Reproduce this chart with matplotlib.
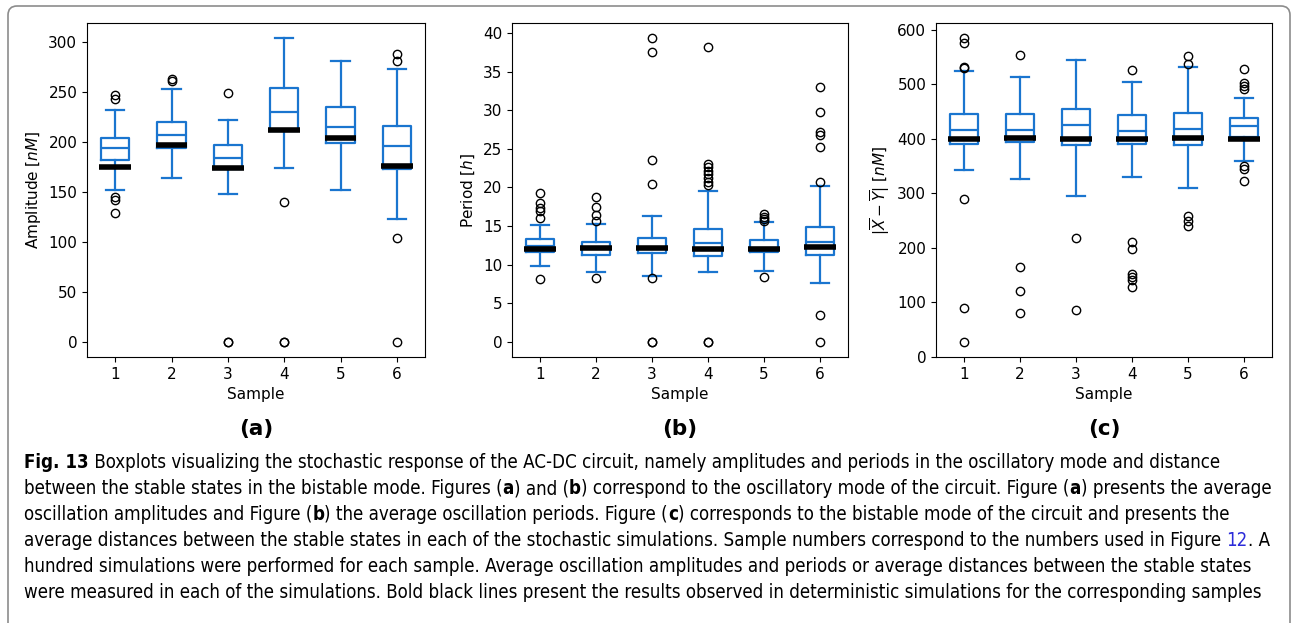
import matplotlib
matplotlib.use('Agg')
import matplotlib.pyplot as plt
from matplotlib.patches import FancyBboxPatch
from matplotlib import font_manager

samples = [1, 2, 3, 4, 5, 6]

# (a) amplitude [nM]
amp_whislo = [152, 164, 148, 174, 152, 123]
amp_q1 = [182, 194, 173, 211, 199, 173]
amp_med = [194, 207, 184, 230.5, 215.5, 196.5]
amp_q3 = [204, 220, 197, 254.5, 235.5, 216]
amp_whishi = [232, 253, 222, 304, 281, 273]
amp_fliers = [[247, 243, 145, 142, 129], [263, 261], [249, 0, 0],
              [140, 0, 0], [], [288, 281.5, 103.5, 0]]
amp_det = [175, 197.5, 174, 212, 204, 176.5]

# (b) period [h]
per_whislo = [9.8, 9.1, 8.55, 9.1, 9.2, 7.6]
per_q1 = [11.6, 11.25, 11.55, 11.1, 11.7, 11.3]
per_med = [12.4, 12.2, 12.2, 12.75, 12.15, 13.0]
per_q3 = [13.3, 12.9, 13.45, 14.6, 13.2, 14.9]
per_whishi = [15.1, 15.3, 16.35, 19.55, 15.5, 20.2]
per_fliers = [[19.3, 18.0, 17.4, 16.95, 16.1, 8.2],
              [18.8, 17.5, 16.4, 15.7, 8.3],
              [39.35, 37.6, 23.5, 20.5, 8.3, 0, 0],
              [38.2, 23.1, 22.7, 22.2, 21.7, 21.2, 20.75, 20.3, 0, 0],
              [16.5, 16.2, 15.9, 15.65, 8.45],
              [33.0, 29.75, 27.15, 26.8, 25.2, 20.7, 3.5, 0]]
per_det = [12.0, 12.2, 12.2, 12.0, 12.05, 12.3]

# (c) distance between stable states [nM]
dist_whislo = [343, 327, 295, 330, 310, 360]
dist_q1 = [390.5, 393.5, 389, 390.5, 388, 404]
dist_med = [416, 416, 426, 414.5, 418, 423.5]
dist_q3 = [445.5, 445, 454, 444, 447.5, 438]
dist_whishi = [523.5, 513.5, 545, 504, 532.5, 475]
dist_fliers = [[584.5, 576.5, 532.5, 529.5, 289.5, 89, 27.5],
               [553, 165, 121, 80],
               [218.5, 87],
               [526.5, 211, 198, 153, 147, 141, 128.5],
               [552, 537.5, 258.5, 248.5, 241],
               [528.5, 502, 496, 491, 351, 344.5, 322]]
dist_det = [400, 401.5, 400, 400, 401.5, 400]

BLUE = '#1a75cf'

fig = plt.figure(figsize=(12.94, 6.23), dpi=100)

frame = FancyBboxPatch((8 / 1294, -0.05), 1282 / 1294, 1.05 - 6 / 623,
                       boxstyle='round,pad=0,rounding_size=0.007',
                       transform=fig.transFigure, fill=False,
                       edgecolor='#8c8c8c', linewidth=1.2, mutation_aspect=1294 / 623)
fig.add_artist(frame)


def draw_panel(rect, whislo, q1, med, q3, whishi, fliers, det, ylabel, tag):
    ax = fig.add_axes(rect)
    stats = []
    for i in range(len(samples)):
        stats.append({'whislo': whislo[i], 'q1': q1[i], 'med': med[i],
                      'q3': q3[i], 'whishi': whishi[i], 'fliers': fliers[i]})
    line = dict(color=BLUE, linewidth=1.6)
    ax.bxp(stats, positions=samples, widths=0.5, capwidths=0.32,
           boxprops=line, whiskerprops=line, capprops=line, medianprops=line,
           flierprops=dict(marker='o', markerfacecolor='none', markeredgecolor='black',
                           markersize=6, markeredgewidth=1.0))
    ax.hlines(det, [s - 0.28 for s in samples], [s + 0.28 for s in samples],
              colors='black', linewidth=4, zorder=5)
    ax.set_xlim(0.5, 6.5)
    ax.set_xticks(samples)
    ax.set_xticklabels([str(s) for s in samples])
    ax.set_xlabel('Sample', fontsize=11)
    ax.set_ylabel(ylabel, fontsize=11)
    ax.tick_params(labelsize=11)
    cx = rect[0] + rect[2] / 2
    fig.text(cx, 1 - 429 / 623, tag, ha='center', va='center',
             fontsize=15.5, fontweight='bold')
    return ax


bottom = 1 - 357 / 623
height = 334 / 623
ax_a = draw_panel([87 / 1294, bottom, 338 / 1294, height], amp_whislo, amp_q1, amp_med,
                  amp_q3, amp_whishi, amp_fliers, amp_det, r'Amplitude [$nM$]', '(a)')
ax_b = draw_panel([512 / 1294, bottom, 336 / 1294, height], per_whislo, per_q1, per_med,
                  per_q3, per_whishi, per_fliers, per_det, r'Period [$h$]', '(b)')
ax_c = draw_panel([936 / 1294, bottom, 336 / 1294, height], dist_whislo, dist_q1, dist_med,
                  dist_q3, dist_whishi, dist_fliers, dist_det,
                  r'$|\overline{X}-\overline{Y}|$ [$nM$]', '(c)')
ax_c.set_ylim(bottom=0)
ax_c.set_yticks([0, 100, 200, 300, 400, 500, 600])

# caption, one list of (text, bold, colour) runs per line
caption = [
    [('Fig. 13', True, 'black'), (' Boxplots visualizing the stochastic response of the AC-DC circuit, '
                                  'namely amplitudes and periods in the oscillatory mode and distance', False, 'black')],
    [('between the stable states in the bistable mode. Figures (', False, 'black'), ('a', True, 'black'),
     (') and (', False, 'black'), ('b', True, 'black'),
     (') correspond to the oscillatory mode of the circuit. Figure (', False, 'black'), ('a', True, 'black'),
     (') presents the average', False, 'black')],
    [('oscillation amplitudes and Figure (', False, 'black'), ('b', True, 'black'),
     (') the average oscillation periods. Figure (', False, 'black'), ('c', True, 'black'),
     (') corresponds to the bistable mode of the circuit and presents the', False, 'black')],
    [('average distances between the stable states in each of the stochastic simulations. '
      'Sample numbers correspond to the numbers used in Figure ', False, 'black'),
     ('12', False, '#2b2bd9'), ('. A', False, 'black')],
    [('hundred simulations were performed for each sample. Average oscillation amplitudes and periods '
      'or average distances between the stable states', False, 'black')],
    [('were measured in each of the simulations. Bold black lines present the results observed in '
      'deterministic simulations for the corresponding samples', False, 'black')],
]

# caption font: a regular-weight condensed sans if there is one, else Liberation Sans
def weight_num(w):
    named = {'normal': 400, 'regular': 400, 'book': 400, 'medium': 500, 'light': 300}
    return w if isinstance(w, int) else named.get(str(w).lower(), 700)


cond_stretch = {'condensed', 'semi-condensed', 'extra-condensed', 'ultra-condensed',
                375, 437, 500, 625, 750, 875}
regular_cond = None
for f in font_manager.fontManager.ttflist:
    narrow = 'Condensed' in f.name or 'Narrow' in f.name or f.stretch in cond_stretch
    if narrow and f.style == 'normal' and weight_num(f.weight) <= 450:
        regular_cond = f
        break

if regular_cond is not None:
    cap_font = font_manager.FontProperties(fname=regular_cond.fname)
    bold_file = None
    for f in font_manager.fontManager.ttflist:
        if f.name == regular_cond.name and f.stretch == regular_cond.stretch \
                and f.style == 'normal' and weight_num(f.weight) >= 600:
            bold_file = f.fname
            break
    cap_bold = font_manager.FontProperties(fname=bold_file) if bold_file else \
        font_manager.FontProperties(family='Liberation Sans', weight='bold')
else:
    cap_font = font_manager.FontProperties(family='Liberation Sans')
    cap_bold = font_manager.FontProperties(family='Liberation Sans', weight='bold')

renderer = fig.canvas.get_renderer()


def make_text(x, y, txt, size, bold, col):
    fp = (cap_bold if bold else cap_font).copy()
    fp.set_size(size)
    return fig.text(x, y, txt, fontproperties=fp, color=col, va='center', ha='left')


def run_width(runs, size):
    total = 0
    for txt, bold, col in runs:
        t = make_text(0, 0, txt, size, bold, col)
        total += t.get_window_extent(renderer).width
        t.remove()
    return total


base = 12
widest = max(run_width(r, base) for r in caption)
size = base * 1250 / widest

x0 = 24
for k, runs in enumerate(caption):
    y = 1 - (463 + 26 * k) / 623
    x = x0
    for txt, bold, col in runs:
        t = make_text(x / 1294, y, txt, size, bold, col)
        x += t.get_window_extent(renderer).width

fig.savefig('out.png', dpi=100)
plt.close(fig)
